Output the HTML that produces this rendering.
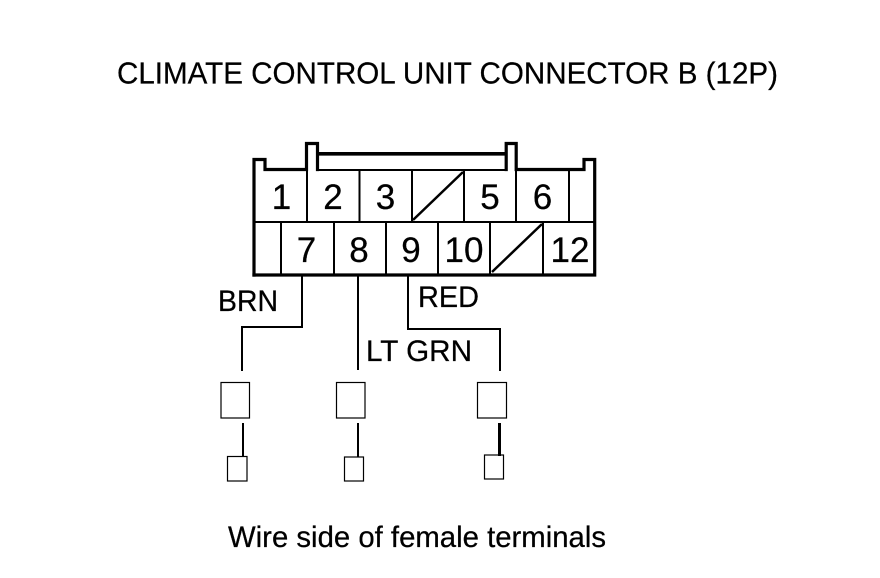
<!DOCTYPE html>
<html>
<head>
<meta charset="utf-8">
<style>
html,body{margin:0;padding:0;background:#fff;width:880px;height:578px;overflow:hidden}
svg{display:block}
text{font-family:"Liberation Sans",Arial,sans-serif;fill:#000;stroke:#000;stroke-width:.25}
</style>
</head>
<body>
<svg width="880" height="578" viewBox="0 0 880 578" xmlns="http://www.w3.org/2000/svg">
<rect width="880" height="578" fill="#fff"/>
<text x="117" y="83.500" font-size="31" textLength="661" lengthAdjust="spacingAndGlyphs">CLIMATE CONTROL UNIT CONNECTOR B (12P)</text>

<g fill="none" stroke="#000" stroke-linecap="square">
<path d="M254 275V159.500H265V169.500H306.500V143.500H317.500V169.500" stroke-width="3.200"/>
<path d="M506.200 169.500V143.500H516.200V169.500H584V159.500H594.700V275H254" stroke-width="3.200"/>
<path d="M318 153.800H505" stroke-width="3.600"/>
<g stroke-width="2">
<path d="M318 170H505"/>
<path d="M255 222H595"/>
<path d="M307 170V222M359.500 170V222M412 170V222M464 170V222M516 170V222M569 170V222"/>
<path d="M281 222V275M334 222V275M386 222V275M438 222V275M490 222V275M543 222V275"/>
</g>
<path d="M413 220L463 172M492 272L542 224" stroke-width="2.500" stroke-linecap="butt"/>
<g stroke-width="2" stroke-linecap="butt">
<path d="M302 275V327H242V371"/>
<path d="M358 275V370"/>
<path d="M408 275V329H500V371"/>
<path d="M243 423V457M358 423V457"/>
</g>
<path d="M499.500 423V456" stroke-width="3" stroke-linecap="butt"/>
<g stroke-width="1.200">
<rect x="221" y="382.500" width="28.500" height="35.500"/>
<rect x="336.500" y="382.500" width="28.500" height="35.500"/>
<rect x="477.500" y="382.500" width="29" height="35.500"/>
<rect x="227.500" y="456.500" width="19.500" height="24.500"/>
<rect x="344.500" y="457" width="19" height="24"/>
<rect x="484.500" y="455" width="19" height="24"/>
</g>
</g>

<g font-size="35" text-anchor="middle">
<text x="281.500" y="209">1</text>
<text x="333" y="209">2</text>
<text x="385.500" y="209">3</text>
<text x="490" y="209">5</text>
<text x="542.500" y="209">6</text>
<text x="306.500" y="262">7</text>
<text x="359" y="262">8</text>
<text x="411" y="262">9</text>
<text x="464" y="262">10</text>
<text x="570" y="262">12</text>
</g>

<text x="218" y="311" font-size="30" textLength="60" lengthAdjust="spacingAndGlyphs">BRN</text>
<text x="418" y="307" font-size="30" textLength="61" lengthAdjust="spacingAndGlyphs">RED</text>
<text x="366" y="361" font-size="30" textLength="106" lengthAdjust="spacingAndGlyphs">LT GRN</text>
<text x="228" y="547" font-size="30" textLength="378" lengthAdjust="spacingAndGlyphs">Wire side of female terminals</text>
</svg>
</body>
</html>
